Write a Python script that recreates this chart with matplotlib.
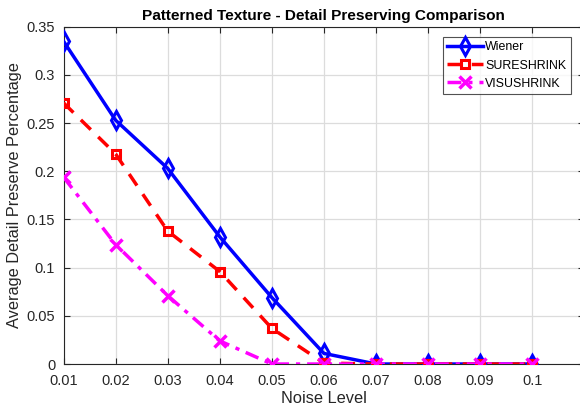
import matplotlib
matplotlib.use("Agg")
import matplotlib.pyplot as plt

plt.rcParams['font.family'] = ['Liberation Sans', 'DejaVu Sans']

noise = [0.01, 0.02, 0.03, 0.04, 0.05, 0.06, 0.07, 0.08, 0.09, 0.10]
wiener = [0.335, 0.253, 0.203, 0.132, 0.069, 0.011, 0.0, 0.0, 0.0, 0.0]
sure = [0.271, 0.218, 0.138, 0.096, 0.037, 0.001, 0.0, 0.0, 0.0, 0.0]
visu = [0.194, 0.124, 0.071, 0.024, 0.0, 0.0, 0.0, 0.0, 0.0, 0.0]
xticks = [0.01, 0.02, 0.03, 0.04, 0.05, 0.06, 0.07, 0.08, 0.09, 0.1]
xticklabels = ['0.01', '0.02', '0.03', '0.04', '0.05', '0.06', '0.07', '0.08', '0.09', '0.1']
yticks = [0, 0.05, 0.1, 0.15, 0.2, 0.25, 0.3, 0.35]
yticklabels = ['0', '0.05', '0.1', '0.15', '0.2', '0.25', '0.3', '0.35']

fig = plt.figure(figsize=(5.8, 4.13), dpi=100)
ax = fig.add_axes([0.1095, 0.1186, 0.898, 0.8167])

ax.plot(noise, wiener, color='#0000ff', linestyle='-', linewidth=2.5, marker='d',
        markersize=9, markerfacecolor='none', markeredgewidth=2.2, label='Wiener', zorder=3)
ax.plot(noise, sure, color='#ff0000', linestyle=(0, (4, 3)), linewidth=2.5, marker='s',
        markersize=6, markerfacecolor='none', markeredgewidth=2.2, label='SURESHRINK', zorder=4)
ax.plot(noise, visu, color='#ff00ff', linestyle=(0, (4, 2, 1.2, 2)), linewidth=2.5, marker='x',
        markersize=8, markeredgewidth=2.5, label='VISUSHRINK', zorder=5)

ax.set_xlim(0.01, 0.11)
ax.set_ylim(0, 0.35)
ax.set_xticks(xticks)
ax.set_xticklabels(xticklabels)
ax.set_yticks(yticks)
ax.set_yticklabels(yticklabels)
ax.grid(True, color='#dcdcdc', linewidth=0.9)
ax.set_axisbelow(True)
ax.tick_params(direction='in', length=4, colors='#262626', labelsize=10.5, top=True, right=True)
ax.tick_params(axis='x', pad=7)
ax.tick_params(axis='y', pad=6)
for s in ax.spines.values():
    s.set_color('#262626')
    s.set_linewidth(0.8)

ax.set_xlabel('Noise Level', fontsize=11.8, color='#262626', labelpad=2)
ax.set_ylabel('Average Detail Preserve Percentage', fontsize=11.8, color='#262626', labelpad=3)
ax.set_title('Patterned Texture - Detail Preserving Comparison', fontsize=11.1, fontweight='bold', pad=5)

leg = ax.legend(loc='upper left', bbox_to_anchor=(442.7/580, 1 - 37/413), bbox_transform=fig.transFigure,
                fontsize=8.9, frameon=True, fancybox=False, handlelength=2.9, handletextpad=0.2,
                borderpad=0.35, labelspacing=0.5, borderaxespad=0)
leg.get_frame().set_edgecolor('#262626')
leg.get_frame().set_linewidth(0.8)

fig.savefig('out.png', dpi=100)
